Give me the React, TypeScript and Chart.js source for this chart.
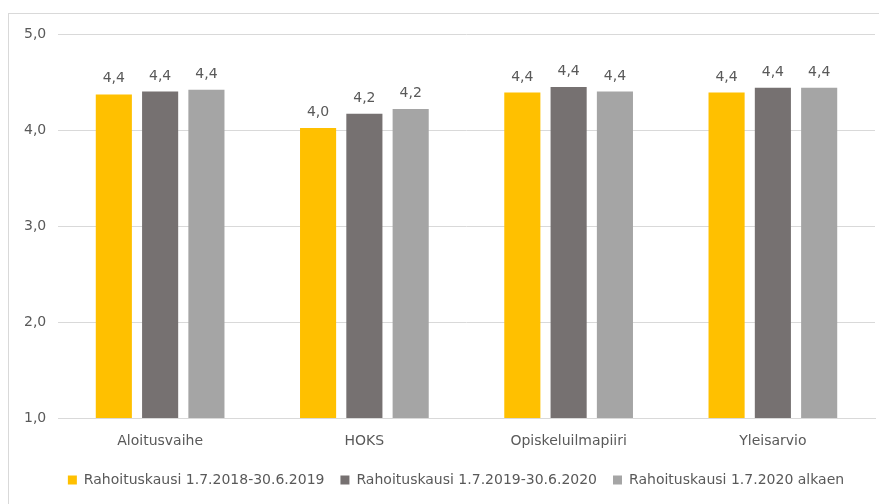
import React, { useEffect, useRef } from "react";
import { Chart, registerables } from "chart.js";

Chart.register(...registerables);

const categories = ["Aloitusvaihe", "HOKS", "Opiskeluilmapiiri", "Yleisarvio"];
const seriesNames = [
  "Rahoituskausi 1.7.2018-30.6.2019",
  "Rahoituskausi 1.7.2019-30.6.2020",
  "Rahoituskausi 1.7.2020 alkaen",
];
const series2018 = [4.37, 4.02, 4.39, 4.39];
const series2019 = [4.4, 4.17, 4.448, 4.44];
const series2020 = [4.42, 4.22, 4.4, 4.44];
const seriesColors = ["#FFC000", "#767171", "#A5A5A5"];
const yTicks = [1, 2, 3, 4, 5];

const FONT = "'DejaVu Sans', sans-serif";
const TEXT = "#595959";

const fmt = (v: number) => v.toFixed(1).replace(".", ",");

const dataLabels = {
  id: "dataLabels",
  afterDatasetsDraw(chart: any) {
    const ctx = chart.ctx;
    ctx.save();
    ctx.font = `14px ${FONT}`;
    ctx.fillStyle = TEXT;
    ctx.textAlign = "center";
    ctx.textBaseline = "alphabetic";
    chart.data.datasets.forEach((ds: any, i: number) => {
      const meta = chart.getDatasetMeta(i);
      meta.data.forEach((el: any, j: number) => {
        ctx.fillText(fmt(ds.data[j]), el.x, el.y - 12);
      });
    });
    ctx.restore();
  },
};

export default function App() {
  const ref = useRef<HTMLCanvasElement>(null);
  useEffect(() => {
    if (!ref.current) return;
    const allSeries = [series2018, series2019, series2020];
    const chart = new Chart(ref.current, {
      type: "bar",
      data: {
        labels: categories,
        datasets: allSeries.map((d, i) => ({
          label: seriesNames[i],
          data: d,
          backgroundColor: seriesColors[i],
          categoryPercentage: 0.68,
          barPercentage: 0.78,
        })),
      },
      options: {
        animation: false,
        responsive: false,
        maintainAspectRatio: false,
        layout: { padding: { left: 28, right: 12, top: 20, bottom: 7 } },
        scales: {
          x: {
            grid: { display: false, drawTicks: false },
            border: { display: true, color: "#D9D9D9" },
            ticks: { color: TEXT, font: { family: FONT, size: 14 }, padding: 15 },
            afterFit(scale: any) {
              scale.height = 39;
            },
          },
          y: {
            min: 1,
            max: 5,
            afterBuildTicks(scale: any) {
              scale.ticks = yTicks.map((v) => ({ value: v }));
            },
            grid: { color: "#D9D9D9", drawTicks: false },
            border: { display: false },
            ticks: {
              color: TEXT,
              font: { family: FONT, size: 14 },
              mirror: true,
              padding: -34,
              callback: (v: any) => fmt(Number(v)),
            },
            afterFit(scale: any) {
              scale.width = 21;
            },
          },
        },
        plugins: {
          legend: {
            position: "bottom",
            labels: {
              boxWidth: 9,
              boxHeight: 9,
              padding: 16,
              color: TEXT,
              font: { family: FONT, size: 14 },
            },
          },
          tooltip: { enabled: false },
        },
      },
      plugins: [dataLabels],
    });
    return () => chart.destroy();
  }, []);
  return (
    <div
      style={{
        marginTop: 5,
        borderLeft: "1px solid #D9D9D9",
        borderTop: "1px solid #D9D9D9",
        width: 879,
        height: 490,
        background: "#fff",
      }}
    >
      <canvas ref={ref} width={878} height={490} style={{ display: "block" }} />
    </div>
  );
}
